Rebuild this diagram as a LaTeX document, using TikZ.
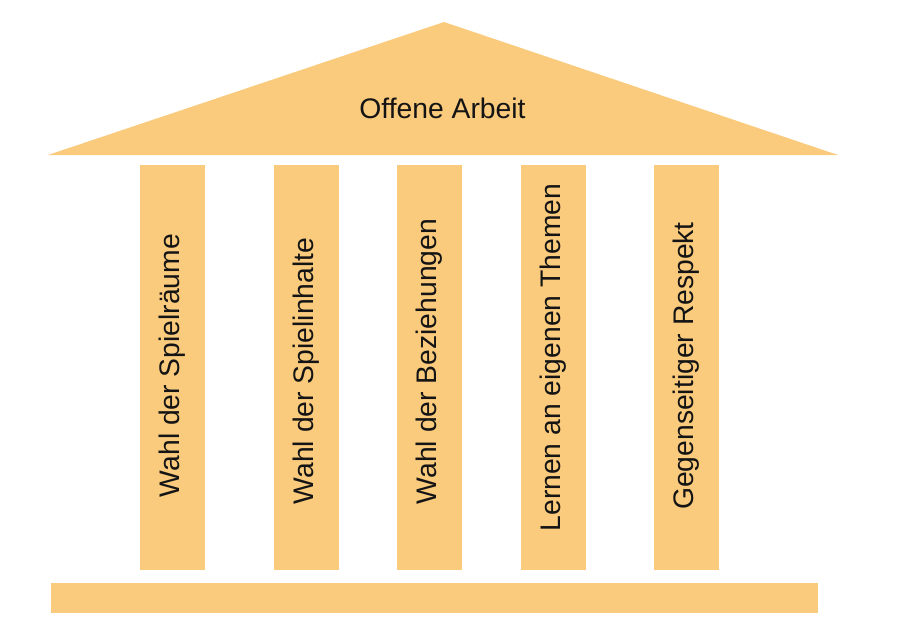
\documentclass[tikz,border=0pt]{standalone}
\usepackage{fontspec}
\setmainfont{Liberation Sans}
\definecolor{roof}{RGB}{250,202,125}
\begin{document}
\begin{tikzpicture}[x=1pt,y=-1pt,
  txt/.style={font=\fontsize{28.3}{34}\selectfont, text=black!92},
  pillar/.style={fill=roof, inner sep=0pt, minimum width=65pt, minimum height=405pt},
  plabel/.style={txt, rotate=90, inner sep=0pt}]
\useasboundingbox (0,0) rectangle (900,633);
% roof
\fill[roof] (48,155) coordinate (rl) -- (444,22) coordinate (apex) -- (838,155) coordinate (rr) -- cycle;
\node[txt, anchor=base] (roofl) at (442.5,118) {Offene Arbeit};
% pillars
\node[pillar] (p1) at (172,367.5) {};
\node[pillar] (p2) at (306.5,367.5) {};
\node[pillar] (p3) at (429.5,367.5) {};
\node[pillar] (p4) at (553.5,367.5) {};
\node[pillar] (p5) at (686.5,367.5) {};
\node[plabel] (l1) at (p1.center |- 0,365.5) {Wahl der Spielräume};
\node[plabel] (l2) at (p2.center |- 0,371) {Wahl der Spielinhalte};
\node[plabel] (l3) at (p3.center |- 0,361.5) {Wahl der Beziehungen};
\node[plabel] (l4) at (p4.center |- 0,357.5) {Lernen an eigenen Themen};
\node[plabel] (l5) at (p5.center |- 0,366) {Gegenseitiger Respekt};
% base
\fill[roof] (51,583) rectangle (818,613);
\end{tikzpicture}
\end{document}
